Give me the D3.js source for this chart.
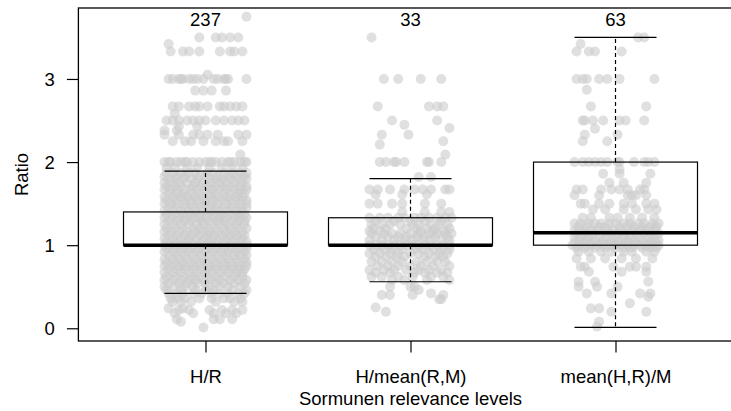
<!DOCTYPE html>
<html>
<head>
<meta charset="utf-8">
<script src="https://d3js.org/d3.v7.min.js"></script>
<style>
  body {margin: 0; background: #fff;}
  text {font-family: "Liberation Sans", Arial, sans-serif; font-size: 18.5px; fill: #000;}
</style>
</head>
<body>
<svg id="chart" width="731" height="411"></svg>
<script>
// categories, counts and box statistics
var groups = ["H/R", "H/mean(R,M)", "mean(H,R)/M"];
var counts = [237, 33, 63];
var yTicks = [0, 1, 2, 3];
// [lower whisker, Q1, median, Q3, upper whisker]
var boxStats = [
  [0.42, 1.0, 1.0, 1.4, 1.89],
  [0.56, 1.0, 1.0, 1.33, 1.8],
  [0.01, 1.0, 1.15, 2.0, 3.5]
];

// jittered points: [ratio, [horizontal jitter offsets]]
var hrPoints = [
  [3.75, [0.2]],
  [3.5, [-0.03, 0.05, 0.08, 0.12, 0.16]],
  [3.42, [-0.18]],
  [3.33, [-0.17, -0.11, -0.08, -0.03, 0.07, 0.12, 0.14, 0.18]],
  [3.05, [0.01]],
  [3.0, [-0.18, -0.16, -0.13, -0.12, -0.11, -0.08, -0.06, -0.04, -0.01, 0.04, 0.06, 0.09, 0.10, 0.11, 0.2]],
  [2.86, [-0.05, -0.01, 0.03, 0.1]],
  [2.67, [-0.16, -0.13, -0.08, -0.05, -0.03, 0.01, 0.07, 0.09, 0.12, 0.15, 0.18]],
  [2.58, [-0.15]],
  [2.5, [-0.19, -0.16, -0.13, -0.09, -0.06, -0.03, 0.0, 0.05, 0.09, 0.13, 0.16, 0.19]],
  [2.43, [-0.13, -0.04]],
  [2.38, [-0.2, -0.14]],
  [2.33, [-0.2, -0.13, -0.06, -0.03, 0.01, 0.06, 0.16, 0.2]],
  [2.25, [-0.16, -0.1, -0.07, -0.01, 0.05, 0.09, 0.11, 0.18]],
  [2.09, [0.17]],
  [2.0, [-0.2, -0.18, -0.17, -0.14, -0.12, -0.1, -0.09, -0.06, -0.03, 0.0, 0.02, 0.03, 0.05, 0.08, 0.11, 0.12, 0.14, 0.17, 0.19, 0.2]],
  [1.93, [-0.19, -0.15, -0.09, -0.04, 0.02, 0.08, 0.13, 0.18]],
  [1.87, [-0.19, -0.16, -0.12, -0.08, -0.05, 0.01, 0.04, 0.09, 0.13, 0.17, 0.2]],
  [1.83, [-0.2, -0.14, -0.1, -0.03, 0.0, 0.06, 0.11, 0.15, 0.19]],
  [1.8, [-0.18, -0.15, -0.11, -0.07, -0.04, 0.02, 0.05, 0.08, 0.12, 0.16, 0.2]],
  [1.75, [-0.2, -0.17, -0.13, -0.09, -0.05, -0.01, 0.03, 0.07, 0.1, 0.14, 0.18]],
  [1.71, [-0.19, -0.15, -0.12, -0.06, -0.02, 0.01, 0.05, 0.09, 0.13, 0.17, 0.2]],
  [1.67, [-0.2, -0.17, -0.14, -0.1, -0.07, -0.04, 0.0, 0.03, 0.06, 0.1, 0.14, 0.17, 0.2]],
  [1.62, [-0.18, -0.14, -0.11, -0.07, -0.03, 0.02, 0.05, 0.09, 0.12, 0.16, 0.19]],
  [1.58, [-0.2, -0.16, -0.12, -0.09, -0.05, -0.01, 0.03, 0.07, 0.11, 0.15, 0.18]],
  [1.54, [-0.19, -0.15, -0.11, -0.07, -0.04, 0.0, 0.04, 0.08, 0.12, 0.16, 0.2]],
  [1.5, [-0.2, -0.17, -0.14, -0.1, -0.07, -0.03, 0.0, 0.03, 0.06, 0.1, 0.13, 0.17, 0.2]],
  [1.45, [-0.18, -0.14, -0.1, -0.06, -0.02, 0.02, 0.05, 0.09, 0.13, 0.17, 0.2]],
  [1.41, [-0.2, -0.16, -0.12, -0.08, -0.05, -0.01, 0.03, 0.07, 0.11, 0.15, 0.18]],
  [1.37, [-0.19, -0.15, -0.11, -0.07, -0.03, 0.01, 0.04, 0.08, 0.12, 0.16, 0.19]],
  [1.33, [-0.2, -0.17, -0.13, -0.1, -0.06, -0.03, 0.0, 0.04, 0.07, 0.1, 0.14, 0.17, 0.2]],
  [1.29, [-0.18, -0.14, -0.1, -0.07, -0.02, 0.02, 0.06, 0.09, 0.13, 0.16, 0.19]],
  [1.25, [-0.2, -0.16, -0.12, -0.08, -0.04, -0.01, 0.03, 0.07, 0.11, 0.15, 0.19]],
  [1.2, [-0.19, -0.15, -0.11, -0.06, -0.03, 0.01, 0.05, 0.09, 0.12, 0.16, 0.2]],
  [1.16, [-0.2, -0.17, -0.13, -0.09, -0.05, -0.01, 0.02, 0.06, 0.1, 0.14, 0.18]],
  [1.12, [-0.18, -0.14, -0.1, -0.07, -0.03, 0.01, 0.04, 0.08, 0.12, 0.15, 0.19]],
  [1.08, [-0.2, -0.16, -0.12, -0.08, -0.04, 0.0, 0.03, 0.07, 0.11, 0.15, 0.18]],
  [1.04, [-0.19, -0.15, -0.11, -0.07, -0.02, 0.02, 0.06, 0.1, 0.13, 0.17, 0.2]],
  [1.0, [-0.2, -0.18, -0.15, -0.12, -0.09, -0.06, -0.03, 0.0, 0.03, 0.06, 0.09, 0.12, 0.15, 0.18, 0.2]],
  [0.96, [-0.19, -0.15, -0.11, -0.07, -0.03, 0.01, 0.05, 0.09, 0.13, 0.17, 0.2]],
  [0.92, [-0.2, -0.16, -0.12, -0.08, -0.04, 0.0, 0.04, 0.08, 0.11, 0.15, 0.19]],
  [0.88, [-0.18, -0.14, -0.1, -0.06, -0.02, 0.02, 0.06, 0.1, 0.14, 0.17, 0.2]],
  [0.83, [-0.2, -0.16, -0.13, -0.09, -0.05, -0.01, 0.03, 0.07, 0.11, 0.15, 0.19]],
  [0.79, [-0.19, -0.15, -0.11, -0.07, -0.03, 0.01, 0.05, 0.09, 0.12, 0.16, 0.2]],
  [0.75, [-0.2, -0.17, -0.13, -0.1, -0.06, -0.02, 0.02, 0.05, 0.09, 0.13, 0.17, 0.2]],
  [0.71, [-0.18, -0.14, -0.1, -0.06, -0.02, 0.01, 0.05, 0.09, 0.13, 0.16, 0.19]],
  [0.67, [-0.2, -0.16, -0.12, -0.08, -0.04, 0.0, 0.03, 0.07, 0.11, 0.15, 0.18]],
  [0.62, [-0.19, -0.15, -0.11, -0.07, -0.03, 0.02, 0.06, 0.1, 0.14, 0.18]],
  [0.58, [-0.2, -0.16, -0.12, -0.08, -0.05, -0.01, 0.03, 0.07, 0.12, 0.16, 0.2]],
  [0.54, [-0.18, -0.13, -0.09, -0.04, 0.0, 0.05, 0.09, 0.14, 0.19]],
  [0.5, [-0.2, -0.15, -0.1, -0.06, 0.02, 0.07, 0.11, 0.17]],
  [0.46, [-0.19, -0.12, -0.05, 0.0, 0.04, 0.13, 0.2]],
  [0.42, [-0.18, -0.14, -0.11, -0.06, -0.02, 0.03, 0.07, 0.11, 0.16, 0.19]],
  [0.36, [-0.17, -0.14, -0.1, -0.03, 0.03, 0.09, 0.12, 0.17]],
  [0.32, [-0.16, -0.12, -0.07, 0.05, 0.14, 0.18]],
  [0.24, [-0.18, -0.11]],
  [0.22, [-0.13, -0.08, 0.02, 0.08, 0.13, 0.18]],
  [0.18, [-0.15, -0.06, 0.04, 0.1, 0.15]],
  [0.11, [-0.14, 0.04, 0.07, 0.13]],
  [0.08, [-0.12]],
  [0.01, [-0.01]]
];

var hmPoints = [
  [3.5, [-0.19]],
  [3.0, [-0.13, -0.06, 0.05, 0.15]],
  [2.67, [-0.16, 0.09, 0.13, 0.16]],
  [2.5, [-0.09, 0.13]],
  [2.45, [-0.03]],
  [2.41, [0.19]],
  [2.33, [-0.14, -0.01]],
  [2.25, [0.16]],
  [2.21, [-0.15]],
  [2.09, [0.17]],
  [2.0, [-0.15, -0.12, -0.08, -0.07, -0.03, 0.08, 0.09, 0.15]],
  [1.82, [0.04, 0.1]],
  [1.67, [-0.2, -0.16, -0.1, -0.03, 0.02, 0.06, 0.1, 0.17, 0.19]],
  [1.61, [-0.17, -0.04, 0.08]],
  [1.5, [-0.2, -0.16, -0.09, -0.04, 0.07, 0.15]],
  [1.4, [-0.04, 0.07, 0.15, 0.19]],
  [1.33, [-0.2, -0.15, -0.11, -0.06, -0.03, 0.02, 0.05, 0.09, 0.13, 0.17, 0.2]],
  [1.29, [-0.17, -0.08, 0.0, 0.07, 0.15]],
  [1.25, [-0.19, -0.14, -0.1, -0.05, 0.01, 0.04, 0.1, 0.14, 0.18]],
  [1.2, [-0.18, -0.12, -0.02, 0.03, 0.08, 0.12, 0.19]],
  [1.17, [-0.2, -0.15, 0.05, 0.11, 0.16]],
  [1.14, [-0.19, -0.13, -0.09, -0.05, 0.0, 0.04, 0.09, 0.13, 0.17, 0.2]],
  [1.1, [-0.17, -0.11, -0.06, -0.02, 0.03, 0.07, 0.12, 0.18]],
  [1.06, [-0.2, -0.14, -0.08, -0.03, 0.01, 0.06, 0.1, 0.15, 0.19]],
  [1.0, [-0.2, -0.17, -0.14, -0.11, -0.08, -0.05, -0.02, 0.01, 0.04, 0.07, 0.1, 0.13, 0.16, 0.19]],
  [0.95, [-0.18, -0.13, -0.09, -0.04, 0.02, 0.06, 0.11, 0.15, 0.19]],
  [0.9, [-0.2, -0.15, -0.1, -0.06, 0.0, 0.04, 0.09, 0.14, 0.18]],
  [0.86, [-0.17, -0.12, -0.07, -0.03, 0.07, 0.12, 0.16]],
  [0.8, [-0.19, -0.14, -0.09, -0.04, 0.03, 0.08, 0.13, 0.17]],
  [0.75, [-0.16, -0.11, -0.06, 0.0, 0.05, 0.11, 0.19]],
  [0.7, [-0.2, -0.13, -0.08, -0.02, 0.04, 0.09, 0.15]],
  [0.67, [-0.17, -0.1, 0.02, 0.07, 0.13, 0.18]],
  [0.62, [-0.19, -0.14, -0.06, 0.01, 0.1, 0.16]],
  [0.58, [-0.09, -0.03, 0.08, 0.19]],
  [0.5, [-0.1, 0.0, 0.02]],
  [0.46, [0.04]],
  [0.42, [0.1]],
  [0.4, [-0.14, -0.1, 0.01, 0.16]],
  [0.35, [0.14, 0.15]],
  [0.25, [-0.17]],
  [0.2, [-0.12]]
];

var mhPoints = [
  [3.5, [0.11, 0.14]],
  [3.42, [-0.17]],
  [3.33, [-0.19, -0.13, -0.1, 0.03]],
  [3.0, [-0.19, -0.16, -0.14, -0.08, -0.04, 0.02, 0.19]],
  [2.87, [-0.14]],
  [2.67, [-0.12, 0.15]],
  [2.5, [-0.16, -0.15, -0.11, -0.06, 0.02, 0.05, 0.14]],
  [2.4, [-0.1]],
  [2.33, [-0.15, 0.01]],
  [2.25, [-0.16, -0.04]],
  [2.0, [-0.2, -0.16, -0.13, -0.1, -0.07, -0.04, 0.01, 0.02, 0.09, 0.14, 0.16, 0.19]],
  [1.91, [0.02]],
  [1.86, [-0.06, 0.02, 0.17]],
  [1.75, [-0.03, 0.04, 0.15]],
  [1.67, [-0.19, -0.16, -0.07, -0.02, 0.02, 0.06, 0.12, 0.14]],
  [1.6, [-0.2, -0.08, 0.06, 0.08, 0.1, 0.15]],
  [1.5, [-0.17, -0.15, -0.08, -0.03, 0.04, 0.08, 0.15, 0.19]],
  [1.43, [-0.11, -0.05, 0.04, 0.1, 0.16, 0.2]],
  [1.33, [-0.16, -0.12, -0.03, 0.01, 0.07, 0.13, 0.19]],
  [1.26, [-0.2, -0.17, -0.13, -0.1, -0.07, -0.03, 0.0, 0.04, 0.07, 0.11, 0.14, 0.18, 0.21]],
  [1.22, [-0.18, -0.14, -0.08, -0.05, 0.02, 0.06, 0.09, 0.13, 0.17, 0.2]],
  [1.18, [-0.2, -0.16, -0.12, -0.09, -0.04, -0.01, 0.03, 0.08, 0.12, 0.15, 0.19]],
  [1.14, [-0.19, -0.15, -0.11, -0.06, -0.02, 0.01, 0.05, 0.1, 0.14, 0.17, 0.21]],
  [1.1, [-0.2, -0.17, -0.13, -0.08, -0.04, 0.0, 0.04, 0.07, 0.11, 0.16, 0.19]],
  [1.06, [-0.18, -0.14, -0.1, -0.06, -0.02, 0.02, 0.06, 0.09, 0.13, 0.18, 0.21]],
  [1.03, [-0.2, -0.16, -0.12, -0.07, -0.03, 0.01, 0.05, 0.1, 0.14, 0.17, 0.2]],
  [1.0, [-0.21, -0.18, -0.15, -0.12, -0.09, -0.06, -0.03, 0.0, 0.03, 0.06, 0.09, 0.12, 0.15, 0.18, 0.21]],
  [0.97, [-0.19, -0.15, -0.1, -0.05, 0.0, 0.04, 0.08, 0.13, 0.17, 0.2]],
  [0.92, [-0.18, -0.13, -0.07, -0.02, 0.04, 0.08, 0.15, 0.19]],
  [0.84, [-0.19, -0.12, -0.05, 0.03, 0.1, 0.18]],
  [0.74, [-0.17, -0.15, -0.01, 0.07, 0.1, 0.15]],
  [0.68, [-0.13, 0.03, 0.15]],
  [0.56, [-0.18, -0.1, 0.16]],
  [0.5, [-0.18, -0.09, 0.01]],
  [0.42, [-0.14, -0.02, 0.12, 0.17]],
  [0.38, [0.16]],
  [0.3, [0.07]],
  [0.24, [-0.12, -0.08]],
  [0.2, [-0.02, 0.15]],
  [0.08, [-0.08]],
  [0.02, [-0.09]]
];

var pointSets = [hrPoints, hmPoints, mhPoints];

var svg = d3.select("#chart");

// plot region in R's user coordinates (xlim 0.38..3.62)
var x = d3.scaleLinear().domain([0.38, 3.62]).range([78.4, 742.6]);
var y = d3.scaleLinear().domain([-0.153, 3.854]).range([341, 8]);

// flatten points
var pts = [];
pointSets.forEach(function(rows, g) {
  rows.forEach(function(r) {
    r[1].forEach(function(dx) { pts.push({g: g + 1, v: r[0], dx: dx}); });
  });
});

svg.append("g")
  .selectAll("circle")
  .data(pts)
  .enter().append("circle")
  .attr("cx", function(d) { return x(d.g + d.dx); })
  .attr("cy", function(d) { return y(d.v); })
  .attr("r", 5)
  .attr("fill", "#cccccc")
  .attr("fill-opacity", 0.6);

// boxes
var boxes = svg.append("g")
  .selectAll("g")
  .data(boxStats)
  .enter().append("g");

boxes.each(function(s, i) {
  var g = d3.select(this), c = i + 1;
  // whiskers
  g.append("line").attr("x1", x(c)).attr("x2", x(c)).attr("y1", y(s[3])).attr("y2", y(s[4]))
    .attr("stroke", "#000").attr("stroke-width", 1.2).attr("stroke-dasharray", "4,3");
  g.append("line").attr("x1", x(c)).attr("x2", x(c)).attr("y1", y(s[1])).attr("y2", y(s[0]))
    .attr("stroke", "#000").attr("stroke-width", 1.2).attr("stroke-dasharray", "4,3");
  // staples
  [s[0], s[4]].forEach(function(v) {
    g.append("line").attr("x1", x(c - 0.2)).attr("x2", x(c + 0.2)).attr("y1", y(v)).attr("y2", y(v))
      .attr("stroke", "#000").attr("stroke-width", 1.2);
  });
  // box
  g.append("rect").attr("x", x(c - 0.4)).attr("y", y(s[3]))
    .attr("width", x(c + 0.4) - x(c - 0.4)).attr("height", y(s[1]) - y(s[3]))
    .attr("fill", "none").attr("stroke", "#000").attr("stroke-width", 1.2);
  // median
  g.append("line").attr("x1", x(c - 0.4)).attr("x2", x(c + 0.4)).attr("y1", y(s[2])).attr("y2", y(s[2]))
    .attr("stroke", "#000").attr("stroke-width", 3.5);
});

// counts above each group
svg.append("g")
  .selectAll("text")
  .data(counts)
  .enter().append("text")
  .attr("x", function(d, i) { return x(i + 1); })
  .attr("y", 26)
  .attr("text-anchor", "middle")
  .text(function(d) { return d; });

// frame
svg.append("rect")
  .attr("x", x.range()[0]).attr("y", y.range()[1])
  .attr("width", x.range()[1] - x.range()[0])
  .attr("height", y.range()[0] - y.range()[1])
  .attr("fill", "none").attr("stroke", "#000").attr("stroke-width", 1.3);

// y axis
var yAxis = svg.append("g")
  .attr("transform", "translate(" + x.range()[0] + ",0)")
  .call(d3.axisLeft(y).tickValues(yTicks).tickSize(11.5).tickPadding(12).tickFormat(d3.format("d")));
yAxis.select(".domain").remove();
yAxis.selectAll("line").attr("stroke", "#000").attr("stroke-width", 1.2);
yAxis.selectAll("text").attr("font-size", null).attr("font-family", null).attr("dy", "0.36em");

// x axis
var xAxis = svg.append("g")
  .attr("transform", "translate(0," + y.range()[0] + ")")
  .call(d3.axisBottom(x).tickValues([1, 2, 3]).tickSize(11.5)
    .tickFormat(function(d) { return groups[d - 1]; }));
xAxis.select(".domain").remove();
xAxis.selectAll("line").attr("stroke", "#000").attr("stroke-width", 1.2);
xAxis.selectAll("text").attr("font-size", null).attr("font-family", null)
  .attr("y", 42.3).attr("dy", 0);

// axis titles
svg.append("text")
  .attr("x", (x.range()[0] + x.range()[1]) / 2)
  .attr("y", 405)
  .attr("text-anchor", "middle")
  .text("Sormunen relevance levels");

svg.append("text")
  .attr("transform", "translate(28," + ((y.range()[0] + y.range()[1]) / 2) + ") rotate(-90)")
  .attr("text-anchor", "middle")
  .text("Ratio");
</script>
</body>
</html>
